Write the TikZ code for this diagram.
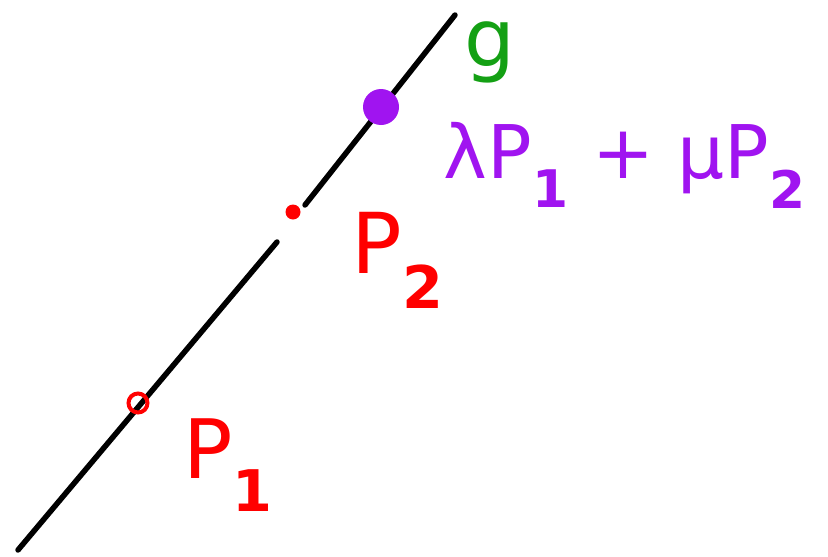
\documentclass[tikz,border=0pt]{standalone}
\usepackage{fontspec}
\setmainfont{DejaVu Sans}
\begin{document}
\begin{tikzpicture}[x=1pt,y=-1pt,
  lbl/.style={inner sep=0pt,anchor=center},
  redc/.style={draw=red,line width=4pt},
  ln/.style={line width=5.5pt,line cap=round,black}]
\useasboundingbox (0,0) rectangle (828,557);
\definecolor{pur}{RGB}{160,20,240}
\definecolor{grn}{RGB}{20,160,20}
\coordinate (a) at (18,550);
\coordinate (b) at (277,242);
\coordinate (c) at (305,205);
\coordinate (d) at (455,15);
\draw[ln] (a) -- (b);
\draw[ln] (c) -- (d);
\node[circle,redc,minimum size=19pt,inner sep=0pt] (p1) at (138,403) {};
\node[circle,fill=red,minimum size=15pt,inner sep=0pt] (p2) at (293,212) {};
\node[circle,fill=pur,minimum size=36pt,inner sep=0pt] (p3) at (381,107) {};
\node[lbl,text=grn,font=\fontsize{80}{80}\selectfont] (g) at (490,52) {g};
\node[lbl,text=pur,font=\fontsize{74}{74}\selectfont] (lab3) at (625,165) {λP$_{\mathbf 1}$ + μP$_{\mathbf 2}$};
\node[lbl,text=red,font=\fontsize{84}{84}\selectfont] (lab2) at (398,260) {P$_{\mathbf 2}$};
\node[lbl,text=red,font=\fontsize{82}{82}\selectfont] (lab1) at (228,465) {P$_{\mathbf 1}$};
\end{tikzpicture}
\end{document}
